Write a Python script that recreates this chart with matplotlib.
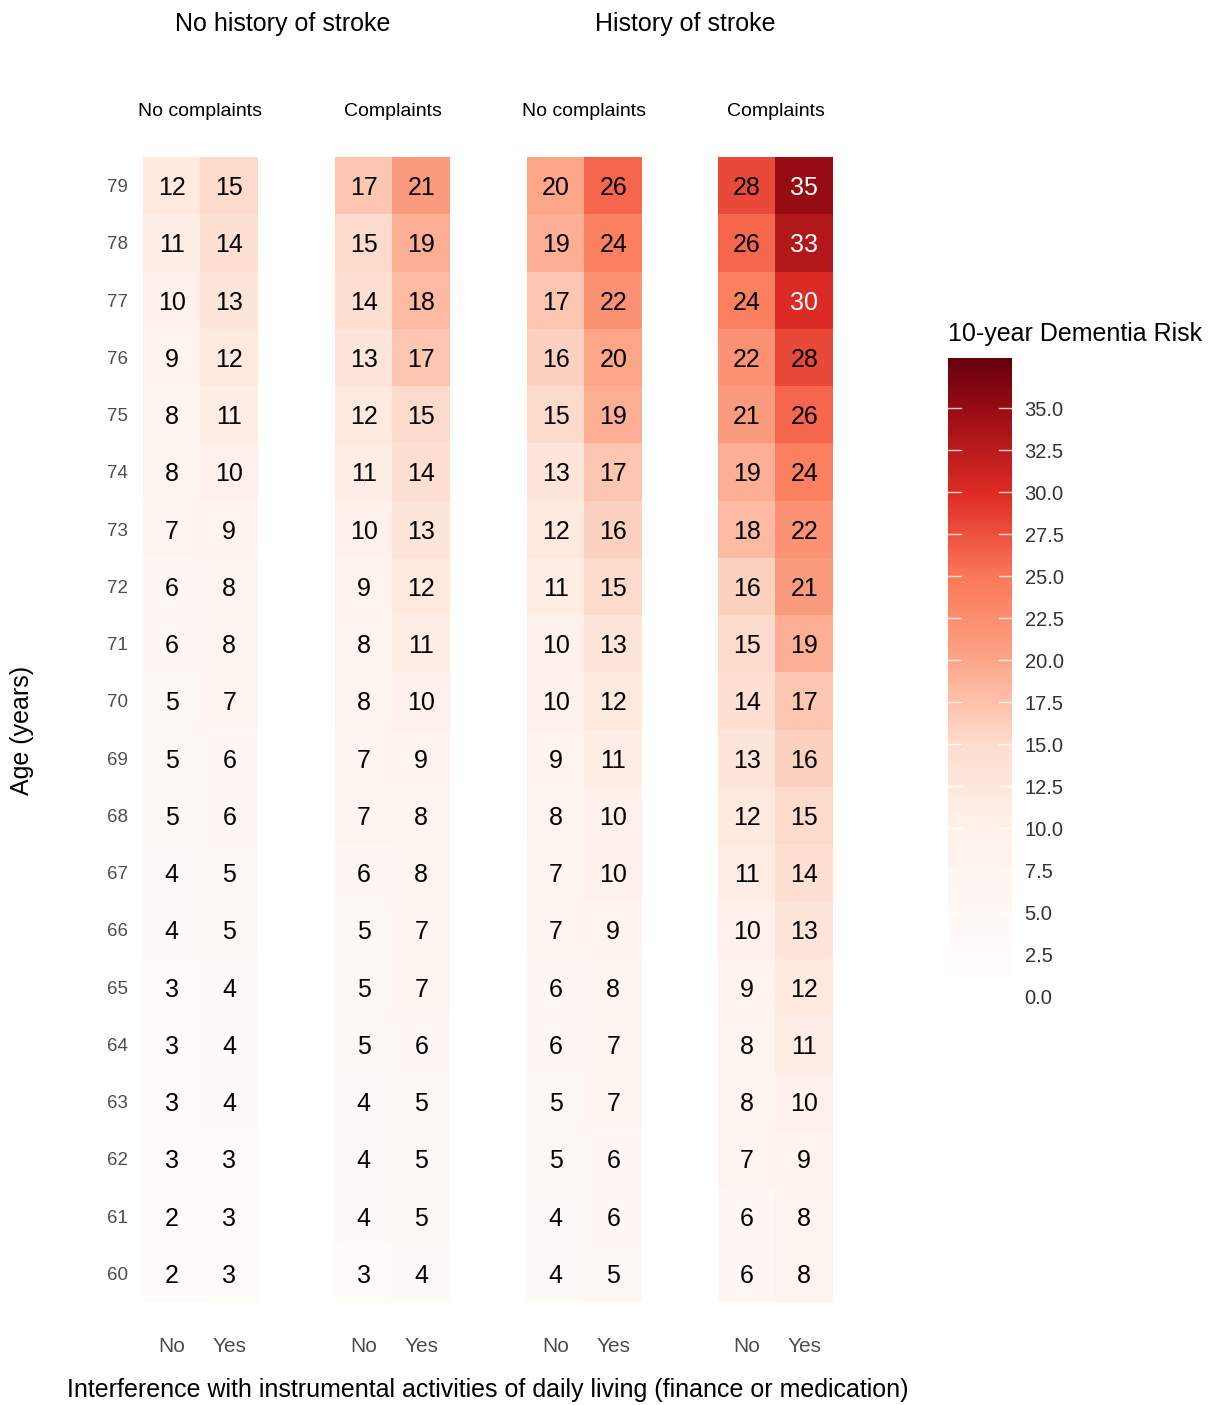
import numpy as np
import matplotlib
matplotlib.use("Agg")
import matplotlib.pyplot as plt
from matplotlib.colors import LinearSegmentedColormap, Normalize
import matplotlib.transforms as mtransforms

plt.rcParams['font.family'] = ['Liberation Sans', 'DejaVu Sans']

# Edad 60..79 (de abajo hacia arriba)
ages = list(range(60, 80))
iadl = ['No', 'Yes']

stroke_groups = ['No history of stroke', 'History of stroke']
complaint_groups = ['No complaints', 'Complaints']

# Riesgo a 10 años (%), listado de 79 a 60 años
no_stroke_no_compl_no = [12, 11, 10, 9, 8, 8, 7, 6, 6, 5, 5, 5, 4, 4, 3, 3, 3, 3, 2, 2]
no_stroke_no_compl_yes = [15, 14, 13, 12, 11, 10, 9, 8, 8, 7, 6, 6, 5, 5, 4, 4, 4, 3, 3, 3]
no_stroke_compl_no = [17, 15, 14, 13, 12, 11, 10, 9, 8, 8, 7, 7, 6, 5, 5, 5, 4, 4, 4, 3]
no_stroke_compl_yes = [21, 19, 18, 17, 15, 14, 13, 12, 11, 10, 9, 8, 8, 7, 7, 6, 5, 5, 5, 4]
stroke_no_compl_no = [20, 19, 17, 16, 15, 13, 12, 11, 10, 10, 9, 8, 7, 7, 6, 6, 5, 5, 4, 4]
stroke_no_compl_yes = [26, 24, 22, 20, 19, 17, 16, 15, 13, 12, 11, 10, 10, 9, 8, 7, 7, 6, 6, 5]
stroke_compl_no = [28, 26, 24, 22, 21, 19, 18, 16, 15, 14, 13, 12, 11, 10, 9, 8, 8, 7, 6, 6]
stroke_compl_yes = [35, 33, 30, 28, 26, 24, 22, 21, 19, 17, 16, 15, 14, 13, 12, 11, 10, 9, 8, 8]

panels = [
    (no_stroke_no_compl_no, no_stroke_no_compl_yes),
    (no_stroke_compl_no, no_stroke_compl_yes),
    (stroke_no_compl_no, stroke_no_compl_yes),
    (stroke_compl_no, stroke_compl_yes),
]
panel_titles = complaint_groups * 2

cb_ticks = np.arange(0, 37.5, 2.5)
vmin, vmax = 0, 38

# Escala blanca -> "Reds", más clara en la parte baja
reds = plt.get_cmap('Reds')
pos = [0, 0.263, 0.395, 0.526, 0.658, 0.789, 0.921, 1.0]
lvl = [0, 0.02, 0.14, 0.32, 0.46, 0.68, 0.90, 1.0]
stops = [(0.0, (1, 1, 1, 1))] + [(p, reds(l)) for p, l in zip(pos[1:], lvl[1:])]
cmap = LinearSegmentedColormap.from_list('white_reds', stops, N=256)
norm = Normalize(vmin=vmin, vmax=vmax)

W, H = 1208, 1405
fig = plt.figure(figsize=(W / 100, H / 100), dpi=100)

lefts = [143, 335, 527, 718]
top, bottom = 157, 1302
pw = 115

for i, (left, (col_no, col_yes)) in enumerate(zip(lefts, panels)):
    ax = fig.add_axes([left / W, (H - bottom) / H, pw / W, (bottom - top) / H])
    vals = np.array([col_no[::-1], col_yes[::-1]]).T  # filas = edad ascendente
    ax.imshow(vals, cmap=cmap, norm=norm, origin='lower', aspect='auto',
              extent=(-0.5, 1.5, -0.5, len(ages) - 0.5), interpolation='nearest')
    for r in range(len(ages)):
        for c in range(2):
            v = vals[r, c]
            ax.text(c, r, str(v), ha='center', va='center_baseline', fontsize=18,
                    color='white' if v >= 30 else 'black')
    ax.set_xticks([0, 1])
    ax.set_xticklabels(iadl, fontsize=15, color='#4d4d4d')
    ax.tick_params(axis='x', length=0, pad=25)
    if i == 0:
        ax.set_yticks(range(len(ages)))
        ax.set_yticklabels(ages, fontsize=13.5, color='#4d4d4d')
        ax.tick_params(axis='y', length=0, pad=11)
    else:
        ax.set_yticks([])
    for s in ax.spines.values():
        s.set_visible(False)
    fig.text((left + pw / 2) / W, 1 - 109 / H, panel_titles[i],
             ha='center', va='center_baseline', fontsize=14)

fig.text(283 / W, 1 - 22 / H, stroke_groups[0], ha='center', va='center_baseline', fontsize=18)
fig.text(685 / W, 1 - 22 / H, stroke_groups[1], ha='center', va='center_baseline', fontsize=18)
fig.text(488 / W, 1 - 1390 / H,
         'Interference with instrumental activities of daily living (finance or medication)',
         ha='center', va='center', fontsize=18)
fig.text(22 / W, 1 - 730 / H, 'Age (years)', ha='center', va='center',
         rotation=90, fontsize=18)

# Barra de color
cax = fig.add_axes([948 / W, (H - 996) / H, 64 / W, (996 - 358) / H])
sm = plt.cm.ScalarMappable(cmap=cmap, norm=norm)
cb = fig.colorbar(sm, cax=cax)
cb.outline.set_visible(False)
cb.set_ticks(cb_ticks)
cb.set_ticklabels([f'{t:.1f}' for t in cb_ticks])
cax.tick_params(length=0, labelsize=14.5, labelcolor='#333333', pad=9)
trans = mtransforms.blended_transform_factory(cax.transAxes, cax.transData)
for t in cb_ticks:
    cax.plot([0, 0.2], [t, t], color='white', lw=1, alpha=0.8, transform=trans)
    cax.plot([0.8, 1], [t, t], color='white', lw=1, alpha=0.8, transform=trans)
fig.text(948 / W, 1 - 334 / H, '10-year Dementia Risk', ha='left', va='center', fontsize=18)

fig.savefig('out.png', dpi=100)
